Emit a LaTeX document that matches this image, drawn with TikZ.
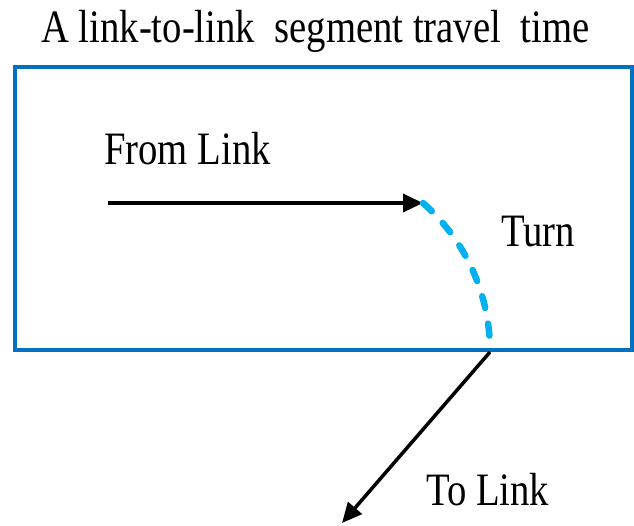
\documentclass[tikz,border=0pt]{standalone}
\usepackage{fontspec}
\setmainfont{Liberation Serif}
\usetikzlibrary{arrows.meta}
\definecolor{boxblue}{RGB}{0,112,192}
\definecolor{turnblue}{RGB}{0,176,240}
\newcommand\talltext[1]{\scalebox{1}[1.2]{#1}}
\begin{document}
\begin{tikzpicture}[x=1pt,y=-1pt,
  lbl/.style={font=\fontsize{38.7}{39}\selectfont, inner sep=0pt, anchor=base west},
  linkarrow/.style={draw=black, line width=3.5pt, -{Triangle[length=20pt,width=18pt]}},
  turnpath/.style={draw=turnblue, line width=6.5pt, line cap=round, dash pattern=on 12pt off 16pt}]
\useasboundingbox (0,0) rectangle (634,526);
\node[lbl] (title) at (41,43) {\talltext{A link-to-link\ \ segment travel\ \ time}};
\draw[boxblue, line width=3.5pt] (15,67) rectangle (632,350);
\node[lbl] (fromlabel) at (104,165) {\talltext{From Link}};
\node[lbl] (turnlabel) at (501,247) {\talltext{Turn}};
\node[lbl] (tolabel) at (426,505) {\talltext{To Link}};
\coordinate (fstart) at (108,203);
\coordinate (fend) at (423,203);
\coordinate (tstart) at (490,352);
\coordinate (tend) at (342,523);
\draw[linkarrow] (fstart) -- (fend);
\draw[turnpath] (fend) arc[start angle=-48.7, end angle=0, radius=197];
\draw[linkarrow] (tstart) -- (tend);
\end{tikzpicture}
\end{document}
